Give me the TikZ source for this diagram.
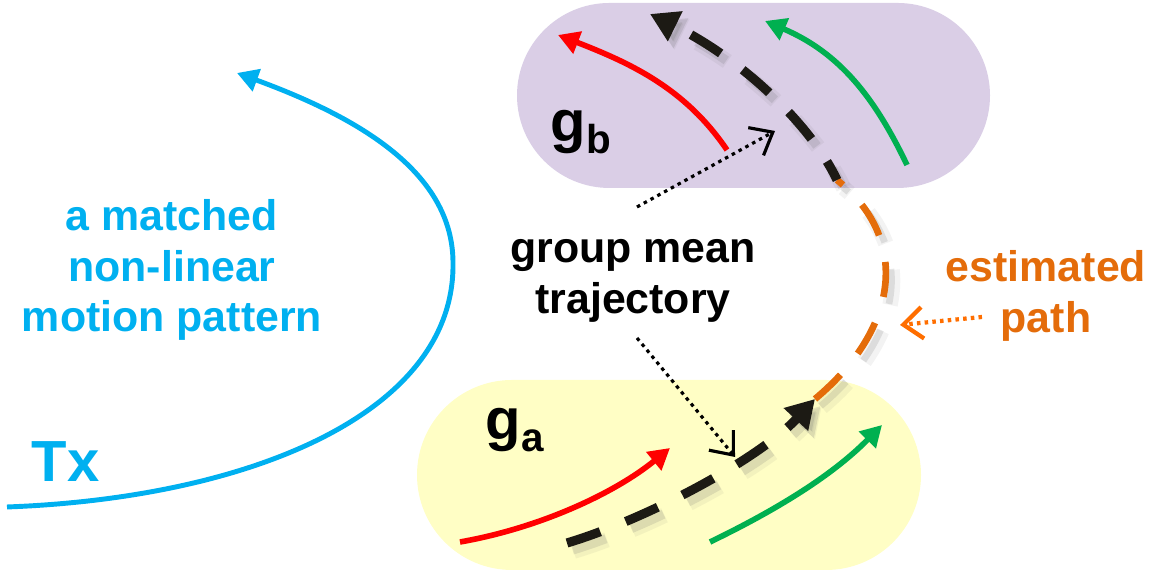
\documentclass[tikz,border=0pt]{standalone}
\usepackage{fontspec}
\setmainfont{Liberation Sans}
\usepackage{tikz}
\usetikzlibrary{arrows.meta,positioning,calc}
\definecolor{txblue}{RGB}{0,176,240}
\definecolor{trred}{RGB}{255,0,0}
\definecolor{trgreen}{RGB}{0,176,80}
\definecolor{estorange}{RGB}{228,108,10}
\definecolor{ptorange}{RGB}{255,110,0}
\definecolor{gbpurple}{RGB}{218,206,230}
\definecolor{gayellow}{RGB}{255,254,197}
\definecolor{meanblack}{RGB}{28,26,20}
\tikzset{
  pill/.style={draw=none,inner sep=0pt},
  member/.style={-{Triangle[length=6pt,width=6.5pt]},line width=1.6pt},
  txcurve/.style={-{Triangle[length=6pt,width=6.5pt]},line width=1.4pt,draw=txblue},
  meanseg/.style={line width=2.6pt,draw=meanblack,dash pattern=on 10pt off 7.8pt},
  meanarr/.style={meanseg,-{Triangle[length=8pt,width=9pt]}},
  estseg/.style={line width=1.9pt,draw=estorange,dash pattern=on 10pt off 7.8pt},
  dropshade/.style={draw=black!60,opacity=.16,transform canvas={xshift=1.6pt,yshift=-2pt}},
  softshade/.style={draw=black!60,opacity=.08,line width=4.4pt,transform canvas={xshift=1.9pt,yshift=-2.3pt}}
}
\newcommand{\grp}[1]{g\raisebox{-3.3pt}{\fontsize{11.5}{11.5}\selectfont #1}}

\begin{document}
\begin{tikzpicture}[
  lbl/.style={font=\bfseries\fontsize{12.2}{14.3}\selectfont,align=center,inner sep=0pt},
  grplbl/.style={font=\bfseries\fontsize{16.5}{16.5}\selectfont,inner sep=0pt,anchor=base west},
  pointer/.style={-{Straight Barb[length=5.5pt,width=9pt]},line width=.9pt,dash pattern=on 1pt off 1.2pt}
]
\useasboundingbox (0,0) rectangle (11.58,5.73);

% the two groups
\node[pill,fill=gbpurple,minimum width=4.73cm,minimum height=1.85cm,rounded corners=.925cm] (gb) at (7.535,4.775) {};
\node[pill,fill=gayellow,minimum width=5.04cm,minimum height=1.90cm,rounded corners=.95cm] (ga) at (6.69,0.98) {};

\node[grplbl] (gblbl) at (5.50,4.31) {\grp{b}};
\node[grplbl] (galbl) at (4.85,1.33) {\grp{a}};

% matched pattern
\coordinate (txs) at (0.07,0.66);
\coordinate (txm) at (4.53,3.10);
\coordinate (txe) at (2.37,5.00);
\draw[txcurve] (txs) .. controls (2.5,0.75) and (4.55,1.6) .. (txm)
  .. controls (4.53,4.0) and (3.6,4.55) .. (txe);

\node[font=\bfseries\fontsize{16.5}{16.5}\selectfont,text=txblue,inner sep=0pt,anchor=base] (tx) at (0.655,0.91) {Tx};
\node[lbl,text=txblue] (motion) at (1.72,3.03) {a matched\\non-linear\\motion pattern};

% members of each group
\coordinate (ras) at (4.60,0.31);
\coordinate (rae) at (6.70,1.25);
\coordinate (gas) at (7.10,0.31);
\coordinate (gae) at (8.82,1.48);
\draw[member,draw=trred] (ras) .. controls (5.4,0.45) and (6.15,0.8) .. (rae);
\draw[member,draw=trgreen] (gas) .. controls (7.7,0.6) and (8.3,0.95) .. (gae);

\coordinate (rbs) at (7.27,4.23);
\coordinate (rbe) at (5.58,5.38);
\coordinate (gbs) at (9.07,4.08);
\coordinate (gbe) at (7.65,5.52);
\draw[member,draw=trred] (rbs) .. controls (6.85,4.85) and (6.3,5.1) .. (rbe);
\draw[member,draw=trgreen] (gbs) .. controls (8.75,4.75) and (8.4,5.2) .. (gbe);

% group mean trajectory and estimated path
\coordinate (ms) at (5.67,0.30);
\coordinate (ma) at (8.15,1.74);
\coordinate (mb) at (8.37,3.93);
\coordinate (me) at (6.50,5.59);

\foreach \sh in {softshade,dropshade}{
  \draw[meanarr,\sh] (ms) .. controls (6.5,0.55) and (7.6,1.15) .. (ma);
  \draw[estseg,\sh] (ma) .. controls (9.0,2.45) and (9.1,3.35) .. (mb);
  \draw[meanarr,\sh,dash phase=4pt] (mb) .. controls (8.1,4.5) and (7.4,5.15) .. (me);
}

\draw[meanarr] (ms) .. controls (6.5,0.55) and (7.6,1.15) .. (ma);
\draw[estseg] (ma) .. controls (9.0,2.45) and (9.1,3.35) .. (mb);
\draw[meanarr,dash phase=4pt] (mb) .. controls (8.1,4.5) and (7.4,5.15) .. (me);

% labels and pointers
\node[lbl] (gmt) at (6.33,2.92) {group mean\\trajectory};
\node[lbl,text=estorange] (est) at (10.46,2.77) {estimated\\path};

\coordinate (p1s) at (6.37,3.66);
\coordinate (p1e) at (7.75,4.42);
\coordinate (p2s) at (6.37,2.35);
\coordinate (p2e) at (7.35,1.16);
\coordinate (p3s) at (9.82,2.56);
\coordinate (p3e) at (9.00,2.48);
\draw[pointer] (p1s) -- (p1e);
\draw[pointer] (p2s) -- (p2e);
\draw[pointer,draw=ptorange,line width=1.2pt] (p3s) -- (p3e);

\end{tikzpicture}
\end{document}
